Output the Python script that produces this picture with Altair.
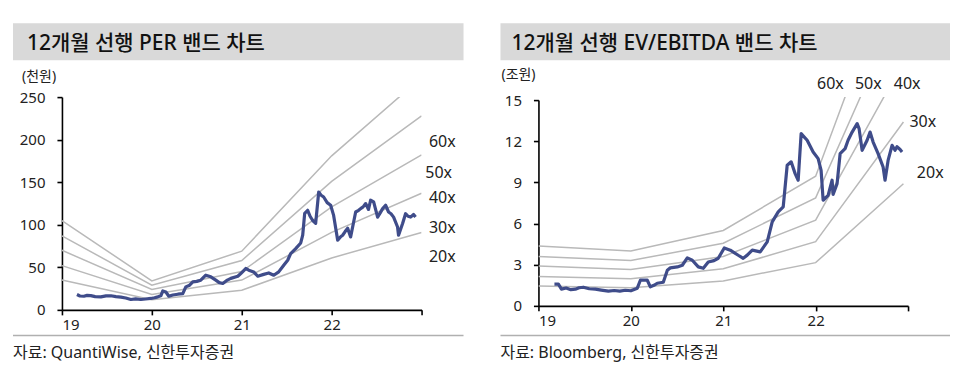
import altair as alt
import pandas as pd

FONT = "Noto Sans, Noto Sans CJK KR"

# ---------------- Left panel: 12M forward PER band (천원) ----------------
PER_PRICE_YEAR = [2019.167, 2019.2, 2019.244, 2019.28, 2019.32, 2019.37, 2019.433, 2019.49, 2019.544, 2019.6,
                  2019.656, 2019.71, 2019.767, 2019.82, 2019.878, 2019.93, 2019.989, 2020.03, 2020.067,
                  2020.1, 2020.122, 2020.156, 2020.189, 2020.233, 2020.289, 2020.344, 2020.378, 2020.42,
                  2020.456, 2020.5, 2020.544, 2020.6, 2020.656, 2020.711, 2020.75, 2020.789, 2020.84,
                  2020.878, 2020.956, 2020.989, 2021.044, 2021.078, 2021.133, 2021.178, 2021.244,
                  2021.3, 2021.356, 2021.411, 2021.467, 2021.511, 2021.544, 2021.6, 2021.656, 2021.678,
                  2021.7, 2021.733, 2021.76, 2021.789, 2021.822, 2021.856, 2021.88, 2021.911, 2021.95,
                  2021.989, 2022.022, 2022.067, 2022.1, 2022.122, 2022.15, 2022.178, 2022.211, 2022.244,
                  2022.267, 2022.3, 2022.322, 2022.35, 2022.378, 2022.41, 2022.433, 2022.467,
                  2022.511, 2022.54, 2022.567, 2022.6, 2022.633, 2022.66, 2022.689, 2022.733, 2022.744,
                  2022.789, 2022.822, 2022.85, 2022.878, 2022.911, 2022.933]
PER_PRICE_VAL = [18.0, 16.3, 16.0, 17.0, 16.8, 15.6, 15.3, 16.5, 16.6, 15.5,
                 15.0, 14.0, 12.2, 13.0, 12.2, 12.8, 13.4, 14.2, 15.3,
                 16.5, 22.3, 21.0, 16.0, 17.5, 18.4, 19.0, 27.0, 29.0,
                 32.9, 33.5, 34.9, 40.7, 38.8, 34.9, 32.0, 31.0, 35.0,
                 37.0, 39.5, 42.7, 48.6, 46.6, 44.6, 39.5, 41.7,
                 43.4, 40.7, 44.6, 52.5, 58.3, 66.2, 72.0, 78.6, 87.7,
                 113.5, 117.0, 110.0, 105.0, 101.7, 138.5, 135.0, 132.6, 126.0,
                 122.9, 111.0, 81.8, 86.0, 87.7, 92.0, 95.9, 85.7, 103.0,
                 115.0, 117.0, 119.0, 121.0, 124.9, 118.0, 128.8, 126.8,
                 109.0, 114.0, 119.0, 122.9, 115.0, 113.0, 109.0, 97.4, 87.7,
                 101.4, 113.0, 110.0, 109.0, 112.0, 109.0]
PER_BAND_YEAR = [2019, 2020, 2021, 2022, 2023]
PER_BAND_NAMES = ["60x", "50x", "40x", "30x", "20x"]
PER_BAND_VALS = [
    [105, 34, 69, 181, 273],
    [87, 29, 58, 151, 228],
    [70, 24, 45, 121, 182],
    [52, 18, 35, 91, 137],
    [35, 12, 23, 61, 91],
]
PER_LABEL_YEAR = [2023.23, 2023.19, 2023.23, 2023.23, 2023.23]
PER_LABEL_VAL = [196.8, 160.4, 131.0, 96.0, 62.0]
PER_YTICKS = [0, 50, 100, 150, 200, 250]

# ---------------- Right panel: 12M forward EV/EBITDA band (조원) ----------------
EV_PRICE_YEAR = [2019.173, 2019.216, 2019.249, 2019.3, 2019.35, 2019.4, 2019.44, 2019.486, 2019.55, 2019.616,
                 2019.68, 2019.757, 2019.82, 2019.88, 2019.94, 2020.0, 2020.07,
                 2020.103, 2020.178, 2020.211, 2020.25, 2020.286, 2020.351, 2020.395, 2020.427, 2020.503, 2020.557,
                 2020.611, 2020.665, 2020.73, 2020.784, 2020.838, 2020.9, 2020.946, 2021.011, 2021.076, 2021.162,
                 2021.216, 2021.26, 2021.314, 2021.4, 2021.476, 2021.53, 2021.595, 2021.649, 2021.692, 2021.735,
                 2021.778, 2021.811, 2021.843, 2021.908, 2021.973, 2022.027, 2022.059, 2022.081, 2022.135,
                 2022.178, 2022.189, 2022.232, 2022.265, 2022.319, 2022.351, 2022.395, 2022.449, 2022.47,
                 2022.503, 2022.557, 2022.589, 2022.622, 2022.676, 2022.73, 2022.751, 2022.784, 2022.827,
                 2022.859, 2022.88, 2022.914, 2022.935]
EV_PRICE_VAL = [1.58, 1.58, 1.22, 1.3, 1.18, 1.22, 1.32, 1.36, 1.25, 1.22,
                1.15, 1.07, 1.12, 1.08, 1.14, 1.1, 1.29,
                1.87, 1.87, 1.39, 1.5, 1.65, 1.72, 2.6, 2.77, 2.84, 2.96,
                3.5, 3.33, 2.84, 2.74, 3.2, 3.3, 3.47, 4.22, 4.06, 3.69,
                3.47, 3.7, 4.06, 3.94, 4.66, 6.12, 6.85, 7.21, 10.25, 10.5,
                9.64, 9.16, 12.56, 12.07, 11.22, 10.73, 9.88, 7.7, 8.06,
                9.16, 8.13, 8.91, 11.1, 11.46, 12.07, 12.67, 13.28, 12.92,
                11.34, 12.07, 12.67, 11.94, 11.1, 10.12, 9.16, 10.6, 11.7,
                11.34, 11.6, 11.4, 11.22]
EV_BAND_YEAR = [2019, 2020, 2021, 2022, 2022.95]
EV_BAND_NAMES = ["60x", "50x", "40x", "30x", "20x"]
EV_BAND_VALS = [
    [4.37, 4.0, 5.5, 9.45, 26.7],
    [3.6, 3.3, 4.57, 7.87, 22.3],
    [2.9, 2.65, 3.6, 6.25, 17.8],
    [2.15, 1.97, 2.7, 4.68, 13.4],
    [1.45, 1.32, 1.82, 3.15, 8.9],
]
EV_LABEL_YEAR = [2022.16, 2022.57, 2022.99, 2023.16, 2023.24]
EV_LABEL_VAL = [16.2, 16.2, 16.2, 13.4, 9.67]
EV_YTICKS = [0, 3, 6, 9, 12, 15]

X_TICKS = [2019, 2020, 2021, 2022, 2023]

PRICE_COLOR = "#3f4c8a"
BAND_COLOR = "#b9b9b9"


def panel(price_year, price_val, band_year, band_names, band_vals, label_year, label_val,
          yticks, width, height, yrange, title, unit, source, geo):
    price = pd.DataFrame({"year": price_year, "value": price_val})
    rows = []
    for name, vals in zip(band_names, band_vals):
        for yr, v in zip(band_year, vals):
            rows.append({"band": name, "year": yr, "value": v})
    bands = pd.DataFrame(rows)
    labels = pd.DataFrame({"band": band_names, "year": label_year, "value": label_val})
    one = pd.DataFrame({"k": [0]})

    if yrange is not None:
        yscale = alt.Scale(domain=[yticks[0], yticks[-1]], nice=False, zero=True, range=yrange)
    else:
        yscale = alt.Scale(domain=[yticks[0], yticks[-1]], nice=False, zero=True)
    xenc = alt.X("year:Q", scale=alt.Scale(domain=[2019, 2023], nice=False, zero=False),
                 axis=alt.Axis(values=X_TICKS, title=None, grid=False,
                               labelExpr="datum.value >= 2023 ? '' : substring(toString(datum.value), 2, 4)"))
    yenc = alt.Y("value:Q", scale=yscale,
                 axis=alt.Axis(values=yticks, title=None, grid=False))

    band_layer = alt.Chart(bands).mark_line(clip=True, color=BAND_COLOR, strokeWidth=1.5).encode(
        x=xenc, y=yenc, detail="band:N")
    price_layer = alt.Chart(price).mark_line(color=PRICE_COLOR, strokeWidth=3.2, strokeJoin="round").encode(
        x="year:Q", y="value:Q")
    label_layer = alt.Chart(labels).mark_text(font=FONT, fontSize=16, color="#222222",
                                              align="center", baseline="middle").encode(
        x="year:Q", y="value:Q", text="band:N")

    x0, x1 = geo["bar_x"]
    bar = alt.Chart(one).mark_rect(color="#d9d9d9").encode(
        x=alt.value(x0), x2=alt.value(x1), y=alt.value(-74), y2=alt.value(-37))
    ttl = alt.Chart(one).mark_text(font=FONT, fontSize=21, fontWeight=500, color="#111111",
                                   align="left", baseline="alphabetic").encode(
        x=alt.value(geo["title_x"]), y=alt.value(-47), text=alt.value(title))
    unit_t = alt.Chart(one).mark_text(font=FONT, fontSize=14, color="#222222",
                                      align="left", baseline="middle").encode(
        x=alt.value(geo["unit_x"]), y=alt.value(geo["unit_y"]), text=alt.value(unit))
    foot_line = alt.Chart(one).mark_rule(color="#b0b0b0", strokeWidth=1.5).encode(
        x=alt.value(x0), x2=alt.value(x1), y=alt.value(238.7))
    foot = alt.Chart(one).mark_text(font=FONT, fontSize=16, color="#222222",
                                    align="left", baseline="middle").encode(
        x=alt.value(x0), y=alt.value(256), text=alt.value(source))

    return alt.layer(band_layer, price_layer, label_layer, bar, ttl, unit_t, foot_line, foot).properties(
        width=width, height=height)


left = panel(PER_PRICE_YEAR, PER_PRICE_VAL, PER_BAND_YEAR, PER_BAND_NAMES, PER_BAND_VALS,
             PER_LABEL_YEAR, PER_LABEL_VAL, PER_YTICKS, 360, 213, None,
             "12개월 선행 PER 밴드 차트", "(천원)", "자료: QuantiWise, 신한투자증권",
             {"bar_x": (-49, 402), "title_x": -35, "unit_x": -40, "unit_y": -20})
right = panel(EV_PRICE_YEAR, EV_PRICE_VAL, EV_BAND_YEAR, EV_BAND_NAMES, EV_BAND_VALS,
              EV_LABEL_YEAR, EV_LABEL_VAL, EV_YTICKS, 370, 209, [209, 3],
              "12개월 선행 EV/EBITDA 밴드 차트", "(조원)", "자료: Bloomberg, 신한투자증권",
              {"bar_x": (-38, 412), "title_x": -27, "unit_x": -37, "unit_y": -22})

chart = alt.hconcat(left, right, spacing=117, bounds="flush").properties(
    padding={"left": 4, "top": 15, "right": 5, "bottom": 5}
).configure_view(stroke=None).configure_axis(
    domainColor="#000000", domainWidth=1.6, tickColor="#000000", tickWidth=1.6, tickSize=5,
    labelFont=FONT, labelFontSize=15, labelColor="#222222"
).configure_axisY(labelPadding=12).configure_axisX(labelPadding=3)

chart.save("out.html", embed_options={"renderer": "svg", "actions": False})
